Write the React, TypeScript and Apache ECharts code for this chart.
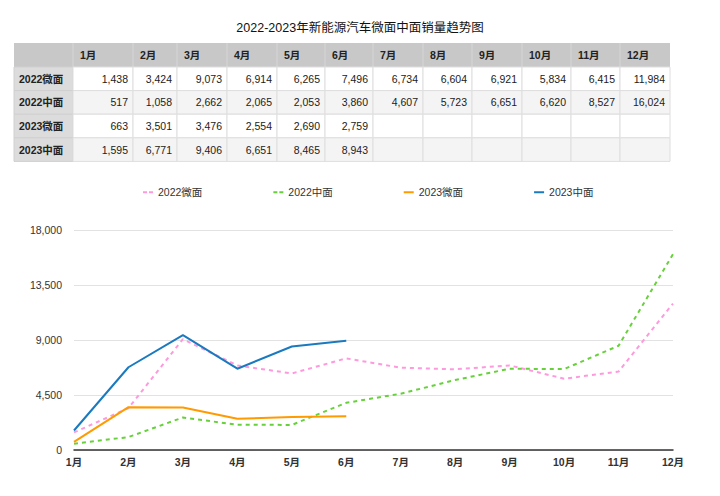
import React, { useEffect, useRef } from "react";
import * as echarts from "echarts";

const TITLE = "2022-2023年新能源汽车微面中面销量趋势图";
const months = ["1月", "2月", "3月", "4月", "5月", "6月", "7月", "8月", "9月", "10月", "11月", "12月"];
const seriesNames = ["2022微面", "2022中面", "2023微面", "2023中面"];
const micro2022 = [1438, 3424, 9073, 6914, 6265, 7496, 6734, 6604, 6921, 5834, 6415, 11984];
const mid2022 = [517, 1058, 2662, 2065, 2053, 3860, 4607, 5723, 6651, 6620, 8527, 16024];
const micro2023 = [663, 3501, 3476, 2554, 2690, 2759, null, null, null, null, null, null];
const mid2023 = [1595, 6771, 9406, 6651, 8465, 8943, null, null, null, null, null, null];
const yTicks = { min: 0, max: 18000, interval: 4500 };

// layout (not data)
const colWidths = [60, 44, 50, 50, 48, 48, 50, 49, 50, 49, 49, 50];
const firstColW = 59;
const tableLeft = 14;
const tableTop = 43;
const headerH = 24;
const rowH = 23.6;

const FONT = '"Liberation Sans", "Noto Sans CJK SC", sans-serif';
const colors = ["#ff99dd", "#66d13a", "#ff9a00", "#1a7ac0"];
const DASH_ICON = "path://M0,0h4v2h-4z M6,0h4v2h-4z";
const SOLID_ICON = "path://M0,0h10v2h-10z";

function buildTable() {
  const allSeries = [micro2022, mid2022, micro2023, mid2023];
  const els: any[] = [];
  const fullW = firstColW + colWidths.reduce((a, b) => a + b, 0);
  els.push({ type: "rect", shape: { x: tableLeft, y: tableTop, width: fullW, height: headerH }, style: { fill: "#c8c8c8" } });
  let x = tableLeft + firstColW;
  months.forEach((m, i) => {
    els.push({ type: "line", shape: { x1: x, y1: tableTop, x2: x, y2: tableTop + headerH }, style: { stroke: "#d6d6d6", lineWidth: 1 } });
    els.push({ type: "text", x: x + 7, y: tableTop + headerH / 2, style: { text: m, font: `bold 10.5px ${FONT}`, fill: "#222", verticalAlign: "middle", align: "left" } });
    x += colWidths[i];
  });
  allSeries.forEach((vals, r) => {
    const y = tableTop + headerH + r * rowH;
    els.push({ type: "rect", shape: { x: tableLeft, y, width: firstColW, height: rowH }, style: { fill: "#dcdcdc", stroke: "#d0d0d0", lineWidth: 1 } });
    els.push({ type: "text", x: tableLeft + 5, y: y + rowH / 2, style: { text: seriesNames[r], font: `bold 10.5px ${FONT}`, fill: "#222", verticalAlign: "middle", align: "left" } });
    let cx = tableLeft + firstColW;
    vals.forEach((v, i) => {
      const w = colWidths[i];
      els.push({ type: "rect", shape: { x: cx, y, width: w, height: rowH }, style: { fill: r % 2 === 0 ? "#ffffff" : "#f4f4f4", stroke: "#dedede", lineWidth: 1 } });
      if (v != null) {
        els.push({ type: "text", x: cx + w - 5, y: y + rowH / 2, style: { text: v.toLocaleString("en-US"), font: `10.5px ${FONT}`, fill: "#222", verticalAlign: "middle", align: "right" } });
      }
      cx += w;
    });
  });
  return els;
}

export default function App() {
  const ref = useRef<HTMLDivElement>(null);
  useEffect(() => {
    if (!ref.current) return;
    const chart = echarts.init(ref.current, undefined, { renderer: "svg" });
    const all = [micro2022, mid2022, micro2023, mid2023];
    chart.setOption({
      animation: false,
      backgroundColor: "#ffffff",
      textStyle: { fontFamily: FONT },
      title: {
        text: TITLE,
        left: "center",
        top: 22,
        padding: 0,
        textStyle: { fontSize: 12.5, fontWeight: "normal", color: "#111", fontFamily: FONT },
      },
      graphic: buildTable(),
      legend: {
        left: 143,
        top: 187,
        padding: 0,
        itemWidth: 10,
        itemHeight: 2,
        itemGap: 71,
        textStyle: { fontSize: 10.5, color: "#333", fontFamily: FONT },
        data: seriesNames.map((n, i) => ({ name: n, icon: i < 2 ? DASH_ICON : SOLID_ICON })),
      },
      grid: { left: 74, right: 47, top: 230, bottom: 46 },
      xAxis: {
        type: "category",
        data: months,
        boundaryGap: false,
        axisLine: { lineStyle: { color: "#333", width: 1.5 } },
        axisTick: { show: false },
        axisLabel: { fontSize: 10.5, color: "#333", fontWeight: "bold", margin: 7, fontFamily: FONT },
      },
      yAxis: {
        type: "value",
        min: yTicks.min,
        max: yTicks.max,
        interval: yTicks.interval,
        axisLine: { show: false },
        axisTick: { show: false },
        axisLabel: { fontSize: 10.5, color: "#333", margin: 12, fontFamily: FONT },
        splitLine: { lineStyle: { color: "#e2e2e2", width: 1 } },
      },
      series: all.map((d, i) => ({
        name: seriesNames[i],
        type: "line",
        data: d,
        symbol: "none",
        color: colors[i],
        itemStyle: { color: colors[i] },
        lineStyle: { width: 2, color: colors[i], type: i < 2 ? [4, 4] : "solid" },
      })),
    });
    return () => chart.dispose();
  }, []);
  return <div ref={ref} style={{ position: "absolute", left: 0, top: 0, width: 720, height: 496 }} />;
}
